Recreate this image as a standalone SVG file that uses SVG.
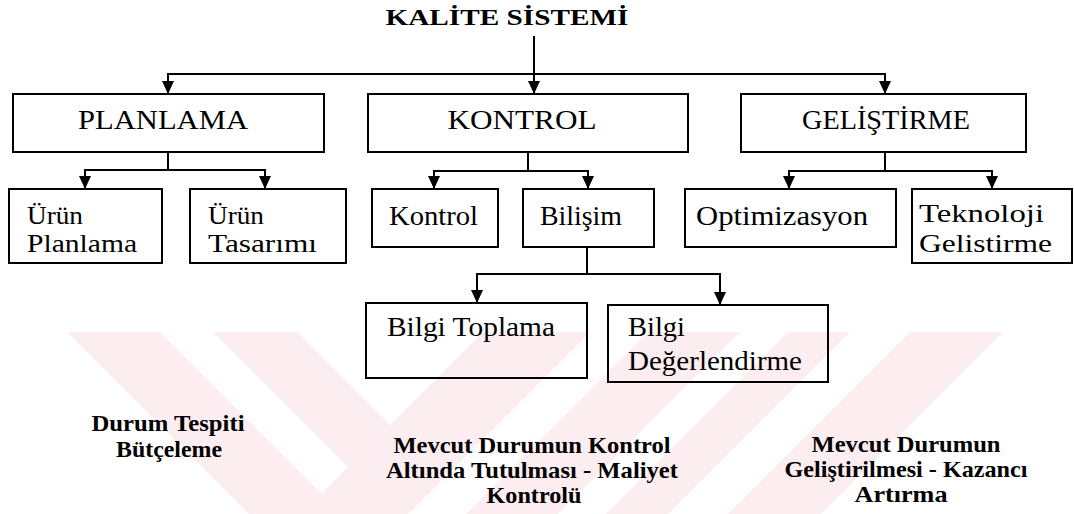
<svg xmlns="http://www.w3.org/2000/svg" width="1074" height="514" viewBox="0 0 1074 514">
  <style>
    .box { fill: none; stroke: #000; stroke-width: 2; }
    .lbl { font-family: "Liberation Serif", "Times New Roman", "DejaVu Serif", serif; font-size: 27px; fill: #000; }
    .two { font-size: 25px; }
    .head { text-anchor: middle; }
    .title { font-family: "Liberation Serif", "Times New Roman", "DejaVu Serif", serif; font-size: 23px; font-weight: bold; fill: #000; text-anchor: middle; }
    .note { font-family: "Liberation Serif", "Times New Roman", "DejaVu Serif", serif; font-size: 24px; font-weight: bold; fill: #000; text-anchor: middle; }
    .conn { fill: none; stroke: #000; stroke-width: 2; }
    .wm { fill: #fcedf0; }
  </style>
  <defs>
    <marker id="arr" viewBox="0 0 13 12" refX="13" refY="6" markerWidth="13" markerHeight="12" markerUnits="userSpaceOnUse" orient="auto">
      <path d="M0,0 L13,6 L0,12 z" fill="#000"/>
    </marker>
  </defs>

  <rect width="1074" height="514" fill="#fff"/>

  <!-- background emblem: diagonal stripes -->
  <g id="emblem">
    <polygon class="wm" points="67,332 160,332 342,514 249,514"/>
    <polygon class="wm" points="213,332 297,332 390,425 348,467"/>
    <polygon class="wm" points="483,332 590,332 408,514 301,514"/>
    <polygon class="wm" points="648,332 740,332 558,514 466,514"/>
    <polygon class="wm" points="788,332 850,332 668,514 606,514"/>
    <polygon class="wm" points="910,332 1003,332 821,514 728,514"/>
  </g>

  <!-- title -->
  <text class="title" x="507" y="25" textLength="243" lengthAdjust="spacingAndGlyphs">KALİTE SİSTEMİ</text>

  <!-- connectors -->
  <g id="connectors">
    <path class="conn" d="M534,36 V94" marker-end="url(#arr)"/>
    <path class="conn" d="M168,74 H885"/>
    <path class="conn" d="M168,73 V94" marker-end="url(#arr)"/>
    <path class="conn" d="M885,73 V94" marker-end="url(#arr)"/>

    <path class="conn" d="M168,152 V170 M85,170 H265"/>
    <path class="conn" d="M85,169 V189" marker-end="url(#arr)"/>
    <path class="conn" d="M265,169 V189" marker-end="url(#arr)"/>

    <path class="conn" d="M528,152 V171 M434,171 H588"/>
    <path class="conn" d="M434,170 V189" marker-end="url(#arr)"/>
    <path class="conn" d="M588,170 V189" marker-end="url(#arr)"/>

    <path class="conn" d="M885,152 V171 M789,171 H992"/>
    <path class="conn" d="M789,170 V189" marker-end="url(#arr)"/>
    <path class="conn" d="M992,170 V189" marker-end="url(#arr)"/>

    <path class="conn" d="M587,247 V274 M477,274 H720"/>
    <path class="conn" d="M477,273 V303" marker-end="url(#arr)"/>
    <path class="conn" d="M720,273 V305" marker-end="url(#arr)"/>
  </g>

  <!-- first level -->
  <g id="planlama">
    <rect class="box" x="13" y="94" width="311" height="58"/>
    <text class="lbl head" x="163" y="129" textLength="170" lengthAdjust="spacingAndGlyphs">PLANLAMA</text>
  </g>
  <g id="kontrol-main">
    <rect class="box" x="368" y="94" width="320" height="58"/>
    <text class="lbl head" x="522" y="129" textLength="149" lengthAdjust="spacingAndGlyphs">KONTROL</text>
  </g>
  <g id="gelistirme">
    <rect class="box" x="741" y="94" width="285" height="58"/>
    <text class="lbl head" x="886" y="129" textLength="168" lengthAdjust="spacingAndGlyphs">GELİŞTİRME</text>
  </g>

  <!-- second level -->
  <g id="urun-planlama">
    <rect class="box" x="9" y="189" width="153" height="74"/>
    <text class="lbl two" x="27" y="224" textLength="56" lengthAdjust="spacingAndGlyphs">Ürün</text>
    <text class="lbl two" x="27" y="252" textLength="110" lengthAdjust="spacingAndGlyphs">Planlama</text>
  </g>
  <g id="urun-tasarimi">
    <rect class="box" x="190" y="189" width="156" height="74"/>
    <text class="lbl two" x="208" y="224" textLength="56" lengthAdjust="spacingAndGlyphs">Ürün</text>
    <text class="lbl two" x="208" y="252" textLength="109" lengthAdjust="spacingAndGlyphs">Tasarımı</text>
  </g>
  <g id="kontrol">
    <rect class="box" x="372" y="189" width="126" height="58"/>
    <text class="lbl" x="389" y="225" textLength="89" lengthAdjust="spacingAndGlyphs">Kontrol</text>
  </g>
  <g id="bilisim">
    <rect class="box" x="523" y="189" width="131" height="58"/>
    <text class="lbl" x="540" y="225" textLength="82" lengthAdjust="spacingAndGlyphs">Bilişim</text>
  </g>
  <g id="optimizasyon">
    <rect class="box" x="685" y="189" width="211" height="58"/>
    <text class="lbl" x="696" y="225" textLength="172" lengthAdjust="spacingAndGlyphs">Optimizasyon</text>
  </g>
  <g id="teknoloji">
    <rect class="box" x="912" y="189" width="160" height="74"/>
    <text class="lbl two" x="919" y="222" textLength="125" lengthAdjust="spacingAndGlyphs">Teknoloji</text>
    <text class="lbl two" x="919" y="252" textLength="133" lengthAdjust="spacingAndGlyphs">Gelistirme</text>
  </g>

  <!-- third level -->
  <g id="bilgi-toplama">
    <rect class="box" x="366" y="303" width="221" height="75"/>
    <text class="lbl" x="387" y="336" textLength="168" lengthAdjust="spacingAndGlyphs">Bilgi Toplama</text>
  </g>
  <g id="bilgi-degerlendirme">
    <rect class="box" x="608" y="305" width="220" height="77"/>
    <text class="lbl" x="628" y="336" textLength="57" lengthAdjust="spacingAndGlyphs">Bilgi</text>
    <text class="lbl" x="628" y="370" textLength="174" lengthAdjust="spacingAndGlyphs">Değerlendirme</text>
  </g>

  <!-- notes under each branch -->
  <g id="note-planlama">
    <text class="note" x="168" y="431" textLength="153" lengthAdjust="spacingAndGlyphs">Durum Tespiti</text>
    <text class="note" x="169" y="457" textLength="106" lengthAdjust="spacingAndGlyphs">Bütçeleme</text>
  </g>
  <g id="note-kontrol">
    <text class="note" x="532" y="453" textLength="277" lengthAdjust="spacingAndGlyphs">Mevcut Durumun Kontrol</text>
    <text class="note" x="532" y="478" textLength="292" lengthAdjust="spacingAndGlyphs">Altında Tutulması - Maliyet</text>
    <text class="note" x="534" y="503" textLength="95" lengthAdjust="spacingAndGlyphs">Kontrolü</text>
  </g>
  <g id="note-gelistirme">
    <text class="note" x="906" y="452" textLength="189" lengthAdjust="spacingAndGlyphs">Mevcut Durumun</text>
    <text class="note" x="906" y="477" textLength="243" lengthAdjust="spacingAndGlyphs">Geliştirilmesi - Kazancı</text>
    <text class="note" x="901" y="502" textLength="93" lengthAdjust="spacingAndGlyphs">Artırma</text>
  </g>
</svg>
